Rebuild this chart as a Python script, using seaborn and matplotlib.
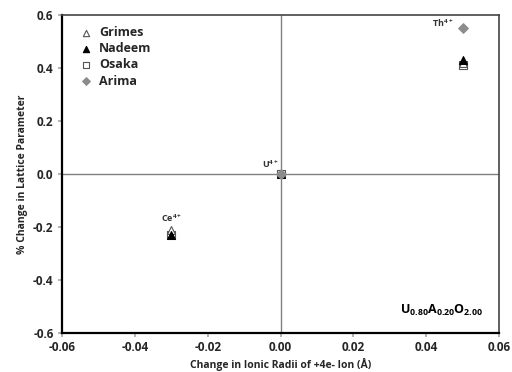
import matplotlib
matplotlib.use("Agg")
import matplotlib.pyplot as plt
import seaborn as sns
import pandas as pd

sns.set_theme(style="white")
plt.rcParams['font.family'] = ['Open Sans', 'DejaVu Sans']
plt.rcParams['mathtext.fontset'] = 'custom'
plt.rcParams['mathtext.rm'] = 'Open Sans:bold'
plt.rcParams['mathtext.bf'] = 'Open Sans:bold'

ions = ["Ce4+", "U4+", "Th4+"]
radius_change = [-0.03, 0.0, 0.05]
grimes = [-0.21, 0.0, 0.42]
nadeem = [-0.23, 0.0, 0.43]
osaka = [-0.23, 0.0, 0.41]
arima = [None, 0.0, 0.55]

sources = {"Grimes": grimes, "Nadeem": nadeem, "Osaka": osaka, "Arima": arima}
rows = []
for src, vals in sources.items():
    for ion, x, v in zip(ions, radius_change, vals):
        if v is not None:
            rows.append({"source": src, "ion": ion, "dr": x, "dlat": v})
df = pd.DataFrame(rows)

styles = {
    "Grimes": dict(marker="^", facecolor="white", edgecolor="#555555", s=32),
    "Nadeem": dict(marker="^", facecolor="black", edgecolor="black", s=32),
    "Osaka": dict(marker="s", facecolor="white", edgecolor="#555555", s=28),
    "Arima": dict(marker="D", facecolor="#8c8c8c", edgecolor="#8c8c8c", s=24),
}

fig = plt.figure(figsize=(5.12, 3.72), dpi=100)
ax = fig.add_axes([0.121, 0.105, 0.854, 0.855])

ax.axhline(0, color="#808080", lw=1.0, zorder=1)
ax.axvline(0, color="#808080", lw=1.0, zorder=1)

for src in ["Osaka", "Grimes", "Nadeem", "Arima"]:
    st = styles[src]
    sub = df[df.source == src]
    sns.scatterplot(data=sub, x="dr", y="dlat", ax=ax, marker=st["marker"],
                    color=st["facecolor"], edgecolor=st["edgecolor"], s=st["s"],
                    linewidth=0.8, label=src, zorder=3)

handles, labels = ax.get_legend_handles_labels()
order = ["Grimes", "Nadeem", "Osaka", "Arima"]
hmap = dict(zip(labels, handles))
leg = ax.legend([hmap[o] for o in order], order, loc="upper left", frameon=False,
                handletextpad=0.05, labelspacing=0.25, markerscale=0.8,
                borderaxespad=0.5, prop={'weight': 'bold', 'size': 9})

ax.set_xlim(-0.06, 0.06)
ax.set_ylim(-0.6, 0.6)
ax.set_xticks([-0.06, -0.04, -0.02, 0.0, 0.02, 0.04, 0.06])
ax.set_xticklabels(["-0.06", "-0.04", "-0.02", "0.00", "0.02", "0.04", "0.06"])
ax.set_yticks([-0.6, -0.4, -0.2, 0.0, 0.2, 0.4, 0.6])
ax.set_yticklabels(["-0.6", "-0.4", "-0.2", "0.0", "0.2", "0.4", "0.6"])
for lab in ax.get_xticklabels() + ax.get_yticklabels():
    lab.set_fontweight("bold")
    lab.set_fontsize(8.5)
ax.tick_params(axis="both", length=3, color="#aaaaaa", direction="out", pad=3,
               bottom=True, left=True)

ax.set_xlabel("Change in Ionic Radii of +4e- Ion (Å)", fontsize=7.5, fontweight="bold", labelpad=3)
ax.set_ylabel("% Change in Lattice Parameter", fontsize=7.5, fontweight="bold", labelpad=4)

for side in ["left", "bottom"]:
    ax.spines[side].set_color("black")
    ax.spines[side].set_linewidth(1.6)
for side in ["top", "right"]:
    ax.spines[side].set_color("#444444")
    ax.spines[side].set_linewidth(1.2)

ax.text(0.0475, 0.545, r"Th$^{4+}$", fontsize=6.5, fontweight="bold", ha="right", va="bottom", color="#333333")
ax.text(-0.0005, 0.015, r"U$^{4+}$", fontsize=6.5, fontweight="bold", ha="right", va="bottom", color="#333333")
ax.text(-0.03, -0.19, r"Ce$^{4+}$", fontsize=6.5, fontweight="bold", ha="center", va="bottom", color="#333333")
ax.text(0.0555, -0.545, r"U$_{0.80}$A$_{0.20}$O$_{2.00}$", fontsize=9, fontweight="bold",
        ha="right", va="bottom", color="black")

fig.savefig("out.png", dpi=100)
